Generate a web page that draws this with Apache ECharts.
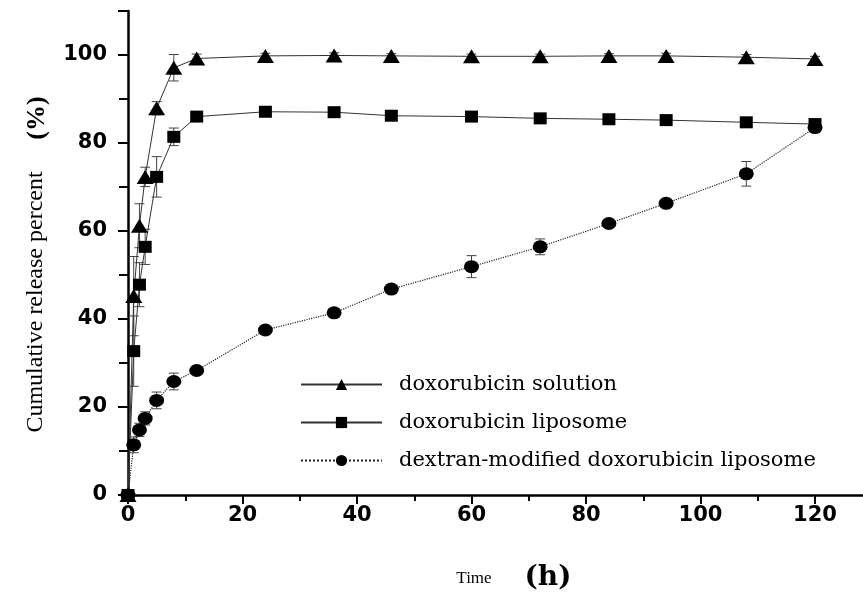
<!DOCTYPE html>
<html>
<head>
<meta charset="utf-8">
<script src="https://cdn.jsdelivr.net/npm/echarts@6/dist/echarts.min.js"></script>
<style>html,body{margin:0;padding:0;background:#fff;}#c{width:863px;height:597px;}</style>
</head>
<body>
<div id="c"></div>
<script>
const times = [0, 1, 2, 3, 5, 8, 12, 24, 36, 46, 60, 72, 84, 94, 108, 120];
const solution = [0, 45.2, 61.2, 72.3, 87.9, 97.1, 99.2, 99.8, 99.9, 99.8, 99.7, 99.7, 99.8, 99.8, 99.5, 99.1];
const liposome = [0, 32.7, 47.8, 56.4, 72.3, 81.4, 86.0, 87.1, 87.0, 86.2, 86.0, 85.6, 85.4, 85.2, 84.7, 84.3];
const dextran = [0, 11.4, 14.8, 17.4, 21.5, 25.8, 28.3, 37.5, 41.4, 46.8, 51.9, 56.4, 61.7, 66.3, 73.0, 83.5];
const solutionErr = [0, 9, 5, 2.2, 1.5, 3.0, 1.0, 0.6, 0.6, 0.5, 0.5, 0.5, 0.5, 0.6, 0.6, 0.6];
const liposomeErr = [0, 8, 5, 4, 4.6, 2.0, 0.6, 0.4, 0.4, 0.4, 0.4, 0.4, 0.4, 0.4, 0.4, 0.4];
const dextranErr = [0, 1.8, 1.5, 1.5, 1.9, 1.9, 0.6, 0.5, 0.5, 0.6, 2.5, 1.8, 0.8, 0.5, 2.8, 0.5];
const seriesNames = ['doxorubicin solution', 'doxorubicin liposome', 'dextran-modified doxorubicin liposome'];
const xTicks = [0, 20, 40, 60, 80, 100, 120];

function pairs(vals) { return times.map((t, i) => [t, vals[i]]); }
function errData(vals, errs) { return times.map((t, i) => [t, vals[i] - errs[i], vals[i] + errs[i]]); }

function errRender(params, api) {
  const x = api.value(0);
  const lo = api.coord([x, api.value(1)]);
  const hi = api.coord([x, api.value(2)]);
  const cap = 5;
  const st = { stroke: '#444', lineWidth: 1 };
  return {
    type: 'group',
    children: [
      { type: 'line', shape: { x1: lo[0], y1: lo[1], x2: hi[0], y2: hi[1] }, style: st },
      { type: 'line', shape: { x1: lo[0] - cap, y1: lo[1], x2: lo[0] + cap, y2: lo[1] }, style: st },
      { type: 'line', shape: { x1: hi[0] - cap, y1: hi[1], x2: hi[0] + cap, y2: hi[1] }, style: st }
    ]
  };
}

const chart = echarts.init(document.getElementById('c'), null, { renderer: 'canvas' });
chart.setOption({
  animation: false,
  backgroundColor: '#fff',
  grid: { left: 128, top: 11, width: 801.5, height: 484, containLabel: false, outerBoundsMode: 'none' },
  xAxis: {
    type: 'value', min: 0, max: 140, interval: 20,
    axisLine: { show: true, lineStyle: { color: '#000', width: 2.5 } },
    axisTick: { show: true, length: 9, lineStyle: { color: '#000', width: 2 } },
    minorTick: { show: true, splitNumber: 2, length: 6, lineStyle: { color: '#000', width: 2 } },
    splitLine: { show: false },
    axisLabel: {
      margin: 10, color: '#000', fontFamily: 'DejaVu Sans', fontWeight: 'bold', fontSize: 21,
      formatter: v => (xTicks.indexOf(v) >= 0 ? String(v) : '')
    }
  },
  yAxis: {
    type: 'value', min: 0, max: 110, interval: 20,
    axisLine: { show: true, lineStyle: { color: '#000', width: 2.5 } },
    axisTick: { show: true, length: 10, lineStyle: { color: '#000', width: 2 } },
    minorTick: { show: true, splitNumber: 2, length: 9, lineStyle: { color: '#000', width: 2 } },
    splitLine: { show: false },
    axisLabel: {
      margin: 21, color: '#000', fontFamily: 'DejaVu Sans', fontWeight: 'bold', fontSize: 21,
      formatter: v => (v % 20 === 0 ? String(v) : '')
    }
  },
  legend: {
    orient: 'vertical', left: 295, top: 369,
    itemWidth: 81, itemHeight: 14, itemGap: 17,
    data: seriesNames,
    textStyle: { color: '#000', fontFamily: 'DejaVu Serif', fontSize: 21, padding: [0, 0, 0, 12] }
  },
  graphic: [
    { type: 'text', x: 474, y: 579, style: { text: 'Time', font: '17px "Liberation Serif"', fill: '#000', textAlign: 'center', textVerticalAlign: 'middle' } },
    { type: 'text', x: 548, y: 578, style: { text: '(h)', font: 'bold 28px "DejaVu Serif"', fill: '#000', textAlign: 'center', textVerticalAlign: 'middle' } },
    { type: 'text', x: 36, y: 302, rotation: Math.PI / 2, style: { text: 'Cumulative release percent', font: '24px "Liberation Serif"', fill: '#000', textAlign: 'center', textVerticalAlign: 'middle' } },
    { type: 'text', x: 37, y: 118, rotation: Math.PI / 2, style: { text: '(%)', font: 'bold 26px "Liberation Serif"', fill: '#000', textAlign: 'center', textVerticalAlign: 'middle' } }
  ],
  series: [
    { type: 'custom', name: 'errSol', renderItem: errRender, data: errData(solution, solutionErr), encode: { x: 0, y: [1, 2] }, z: 1, silent: true },
    { type: 'custom', name: 'errLip', renderItem: errRender, data: errData(liposome, liposomeErr), encode: { x: 0, y: [1, 2] }, z: 1, silent: true },
    { type: 'custom', name: 'errDex', renderItem: errRender, data: errData(dextran, dextranErr), encode: { x: 0, y: [1, 2] }, z: 1, silent: true },
    {
      type: 'line', name: seriesNames[0], data: pairs(solution), symbol: 'triangle', symbolSize: [17, 14],
      lineStyle: { color: '#333', width: 1 }, itemStyle: { color: '#000' }, z: 3
    },
    {
      type: 'line', name: seriesNames[1], data: pairs(liposome), symbol: 'rect', symbolSize: [13, 12],
      lineStyle: { color: '#333', width: 1 }, itemStyle: { color: '#000' }, z: 3
    },
    {
      type: 'line', name: seriesNames[2], data: pairs(dextran), symbol: 'circle', symbolSize: [15, 13],
      lineStyle: { color: '#222', width: 1.2, type: 'dotted' }, itemStyle: { color: '#000' }, z: 3
    }
  ]
});
</script>
</body>
</html>
